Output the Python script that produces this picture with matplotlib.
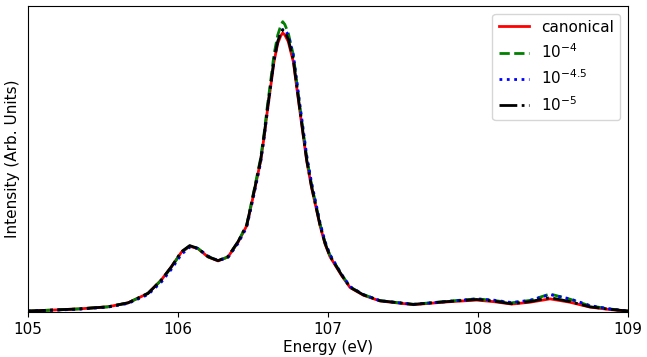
import numpy as np
import matplotlib.pyplot as plt

# energy grid (eV)
energy = [105.0, 105.333, 105.533, 105.667, 105.8, 105.889, 105.956, 106.022,
          106.078, 106.133, 106.2, 106.267, 106.333, 106.4, 106.458, 106.48,
          106.51, 106.551, 106.575, 106.595, 106.62, 106.64, 106.665, 106.685,
          106.698, 106.712, 106.735, 106.769, 106.79, 106.813, 106.835, 106.858,
          106.89, 106.925, 106.947, 106.98, 107.013, 107.091, 107.147, 107.236,
          107.347, 107.569, 107.791, 107.991, 108.102, 108.224, 108.347, 108.48,
          108.613, 108.747, 108.88, 109.0]

canonical = [0.003, 0.010, 0.017, 0.030, 0.061, 0.105, 0.148, 0.195,
             0.215, 0.207, 0.180, 0.167, 0.180, 0.228, 0.282, 0.330,
             0.398, 0.494, 0.576, 0.655, 0.745, 0.818, 0.878, 0.903,
             0.912, 0.906, 0.884, 0.818, 0.740, 0.655, 0.576, 0.494,
             0.408, 0.331, 0.282, 0.223, 0.181, 0.119, 0.080, 0.055,
             0.036, 0.024, 0.033, 0.039, 0.034, 0.026, 0.032, 0.043,
             0.032, 0.016, 0.008, 0.003]

tol_4 = [0.003, 0.010, 0.017, 0.030, 0.061, 0.104, 0.146, 0.195,
         0.216, 0.208, 0.181, 0.168, 0.180, 0.229, 0.285, 0.335,
         0.405, 0.503, 0.588, 0.670, 0.764, 0.842, 0.905, 0.936,
         0.949, 0.940, 0.912, 0.840, 0.757, 0.670, 0.588, 0.505,
         0.417, 0.338, 0.288, 0.228, 0.186, 0.122, 0.082, 0.057,
         0.037, 0.025, 0.035, 0.043, 0.038, 0.030, 0.038, 0.059,
         0.042, 0.020, 0.010, 0.003]

tol_45 = [0.003, 0.009, 0.016, 0.028, 0.057, 0.098, 0.140, 0.188,
          0.212, 0.208, 0.183, 0.168, 0.178, 0.224, 0.277, 0.325,
          0.392, 0.488, 0.572, 0.652, 0.745, 0.822, 0.885, 0.913,
          0.923, 0.925, 0.905, 0.840, 0.762, 0.676, 0.596, 0.512,
          0.424, 0.343, 0.292, 0.231, 0.188, 0.123, 0.083, 0.057,
          0.037, 0.025, 0.034, 0.043, 0.039, 0.031, 0.038, 0.057,
          0.043, 0.021, 0.010, 0.003]

tol_5 = [0.003, 0.010, 0.017, 0.030, 0.061, 0.105, 0.148, 0.197,
         0.217, 0.208, 0.181, 0.168, 0.181, 0.230, 0.284, 0.333,
         0.401, 0.497, 0.580, 0.660, 0.751, 0.824, 0.885, 0.912,
         0.922, 0.915, 0.892, 0.824, 0.745, 0.660, 0.580, 0.497,
         0.411, 0.333, 0.284, 0.225, 0.183, 0.121, 0.081, 0.056,
         0.037, 0.025, 0.034, 0.041, 0.036, 0.027, 0.034, 0.047,
         0.034, 0.017, 0.009, 0.003]

fig = plt.figure(figsize=(6.47, 3.57), dpi=100)
ax = fig.add_axes([0.0433, 0.126, 0.9273, 0.857])

ax.plot(energy, canonical, color='red', linestyle='-', lw=2, label='canonical')
ax.plot(energy, tol_4, color='green', linestyle='--', lw=2, label=r'$10^{-4}$')
ax.plot(energy, tol_45, color='blue', linestyle=':', lw=2, label=r'$10^{-4.5}$')
ax.plot(energy, tol_5, color='black', linestyle='-.', lw=2, label=r'$10^{-5}$')

ax.set_xlim(105, 109)
ax.set_ylim(0, 1.0)
ax.set_xticks([105, 106, 107, 108, 109])
ax.set_yticks([])
ax.tick_params(labelsize=11)
ax.set_xlabel('Energy (eV)', fontsize=11, labelpad=2)
ax.set_ylabel('Intensity (Arb. Units)', fontsize=11, labelpad=6)
ax.legend(loc='upper right', fontsize=11)

fig.savefig('out.png', dpi=100)
